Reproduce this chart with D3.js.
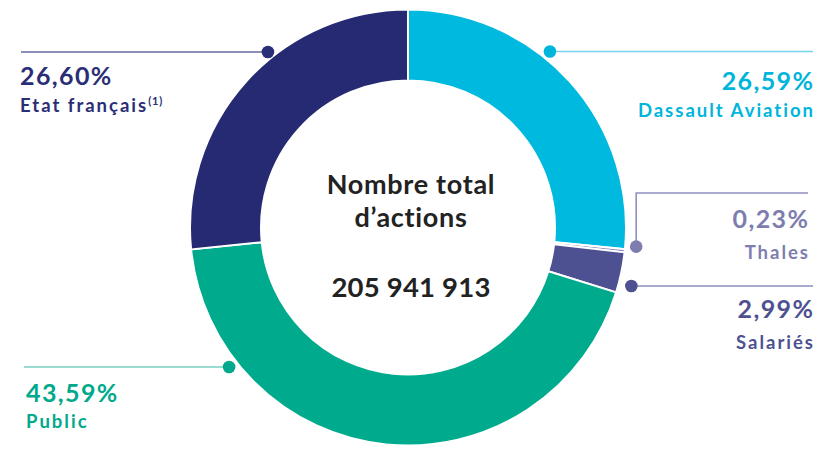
<!DOCTYPE html>
<html><head><meta charset="utf-8">
<script src="https://cdn.jsdelivr.net/npm/d3@7"></script>
<style>
html,body{margin:0;padding:0;background:#fff;}
svg{display:block;font-family:Lato,"Open Sans",sans-serif;}
</style></head>
<body>
<svg id="chart" width="840" height="461"></svg>
<script>
// ---- Data ----
const categories = ["Dassault Aviation", "Thales", "Salariés", "Public", "Etat français"];
const values = [26.59, 0.23, 2.99, 43.59, 26.60];
const valueLabels = ["26,59%", "0,23%", "2,99%", "43,59%", "26,60%"];
const centerLines = ["Nombre total", "d\u2019actions"];
const totalShares = "205 941 913";

// ---- Styles / layout ----
const sliceColors = ["#00B9DF", "#8484B8", "#4E5191", "#00AB8D", "#262A73"];
const textColors  = ["#00B5DB", "#7D7DAF", "#4E5191", "#00A98B", "#2A2E76"];
const lineColors  = ["#76D4EC", "#8F8FBE", "#8B8DBB", "#7AD2C1", "#6468A4"];
// label layout: dot angle (deg, clockwise from top) and radius, line/label geometry
const labelLayout = [
  {ang: 38.7, r: 227, lineY: 51.5, lineEnd: 813, anchor: "end", tx: 813, y1: 90, y2: 117},
  {ang: 94.8, r: 229, lineY: 193, lineEnd: 808, anchor: "end", tx: 808, y1: 228, y2: 259, elbow: true},
  {ang: 104.8, r: 231, lineY: 286, lineEnd: 813, anchor: "end", tx: 813, y1: 318, y2: 349},
  {ang: 232, r: 227, lineY: 367, lineEnd: 24, anchor: "start", tx: 26, y1: 402, y2: 428},
  {ang: 321.3, r: 224, lineY: 52, lineEnd: 21, anchor: "start", tx: 20, y1: 85, y2: 112, sup: "(1)"}
];

const cx = 408, cy = 227.5, outerR = 218, innerR = 147;
const svg = d3.select("#chart");
const g = svg.append("g").attr("transform", `translate(${cx},${cy})`);

const pie = d3.pie().sort(null).value(d => d);
const arc = d3.arc().innerRadius(innerR).outerRadius(outerR);
const arcs = pie(values);

g.selectAll("path.slice").data(arcs).enter().append("path")
  .attr("class", "slice")
  .attr("d", arc)
  .attr("fill", (d, i) => sliceColors[i])
  .attr("stroke", "#fff")
  .attr("stroke-width", 2)
  .attr("stroke-linejoin", "miter");

// leaders
labelLayout.forEach((L, i) => {
  const a = L.ang * Math.PI / 180;
  const dx = cx + L.r * Math.sin(a), dy = cy - L.r * Math.cos(a);
  let pts;
  if (L.elbow) pts = [[dx, dy], [dx, L.lineY], [L.lineEnd, L.lineY]];
  else pts = [[dx, L.lineY], [L.lineEnd, L.lineY]];
  svg.append("path")
    .attr("d", d3.line()(pts))
    .attr("fill", "none")
    .attr("stroke", lineColors[i])
    .attr("stroke-width", 1.6);
  svg.append("circle")
    .attr("cx", dx).attr("cy", L.elbow ? dy : L.lineY).attr("r", 6.3)
    .attr("fill", textColors[i]);

  const ls1 = 1.4, ls2 = 2.0;
  svg.append("text")
    .attr("x", L.anchor === "end" ? L.tx + ls1 : L.tx).attr("y", L.y1)
    .attr("text-anchor", L.anchor)
    .attr("fill", textColors[i])
    .attr("font-size", 25).attr("font-weight", 700)
    .attr("letter-spacing", ls1)
    .text(valueLabels[i]);
  const t = svg.append("text")
    .attr("x", L.anchor === "end" ? L.tx + ls2 : L.tx).attr("y", L.y2)
    .attr("text-anchor", L.anchor)
    .attr("fill", textColors[i])
    .attr("font-size", 18.5).attr("font-weight", 700)
    .attr("letter-spacing", ls2)
    .text(categories[i]);
  if (L.sup) {
    t.append("tspan").attr("font-size", 11).attr("letter-spacing", 0.8).attr("dy", -7).attr("dx", 0).text(L.sup);
  }
});

// center text
centerLines.forEach((s, i) => {
  svg.append("text")
    .attr("fill", "#222").attr("font-weight", 700).attr("text-anchor", "middle")
    .attr("font-size", 27).attr("letter-spacing", 0.7)
    .attr("x", cx + 3).attr("y", 193.5 + i * 33).text(s);
});
svg.append("text")
  .attr("fill", "#222").attr("font-weight", 700).attr("text-anchor", "middle")
  .attr("font-size", 27.5).attr("letter-spacing", 0.2)
  .attr("x", cx + 3).attr("y", 297).text(totalShares);
</script>
</body></html>
